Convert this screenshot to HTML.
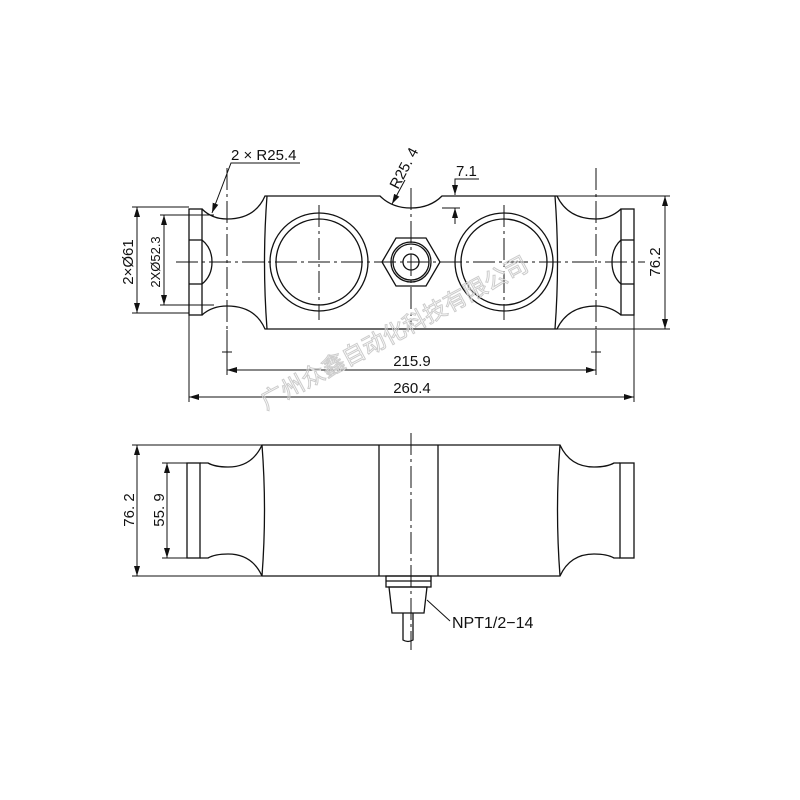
<!DOCTYPE html>
<html><head><meta charset="utf-8"><style>
html,body{margin:0;padding:0;background:#fff;}
svg{display:block;}
text{font-family:"Liberation Sans","Noto Sans CJK SC",sans-serif;fill:#111;}
</style></head><body>
<svg width="800" height="800" viewBox="0 0 800 800" xmlns="http://www.w3.org/2000/svg">
<defs>
<marker id="a" viewBox="0 0 10 6" refX="10" refY="3" markerWidth="10" markerHeight="6" orient="auto-start-reverse" markerUnits="userSpaceOnUse"><path d="M0,0 L10,3 L0,6 z" fill="#111"/></marker>
</defs>
<g fill="none" stroke="#111" stroke-width="1.3">
<path d="M202,209 Q212,219 227,219 Q255,219 265,196 L380,196 Q392,208 411,208 Q430,208 442,196 L557,196 Q568,219 596,219 Q610,219 621,209"/>
<path d="M202,315 Q212,306 227,306 Q255,306 265,329 L557,329 Q568,306 596,306 Q610,306 621,315"/>
<path d="M267,196 Q262,262 267,329"/>
<path d="M555,196 Q560,262 555,329"/>
<rect x="189" y="209" width="13" height="106"/>
<line x1="189" y1="240" x2="202" y2="240"/><line x1="189" y1="284" x2="202" y2="284"/>
<path d="M202,240 Q212,248 212,262 Q212,276 202,284"/>
<rect x="621" y="209" width="13" height="106"/>
<line x1="621" y1="240" x2="634" y2="240"/><line x1="621" y1="284" x2="634" y2="284"/>
<path d="M621,240 Q612,248 612,262 Q612,276 621,284"/>
<circle cx="319" cy="262" r="49"/><circle cx="319" cy="262" r="43"/>
<circle cx="504" cy="262" r="49"/><circle cx="504" cy="262" r="43"/>
<polygon points="382,262 396,238 426,238 440,262 426,286 396,286"/>
<circle cx="411" cy="262" r="20"/><circle cx="411" cy="262" r="18"/><circle cx="411" cy="262" r="8"/>
</g>
<g fill="none" stroke="#111" stroke-width="1" stroke-dasharray="22,4,3,4">
<line x1="176" y1="262" x2="645" y2="262"/>
<line x1="227" y1="168" x2="227" y2="330"/>
<line x1="596" y1="168" x2="596" y2="330"/>
<line x1="319" y1="205" x2="319" y2="320"/>
<line x1="504" y1="205" x2="504" y2="320"/>
<line x1="411" y1="188" x2="411" y2="325"/>
<line x1="411" y1="433" x2="411" y2="650"/>
</g>
<g fill="none" stroke="#111" stroke-width="1">
<line x1="227" y1="330" x2="227" y2="375"/><line x1="596" y1="330" x2="596" y2="375"/>
<line x1="222" y1="352" x2="232" y2="352"/><line x1="591" y1="352" x2="601" y2="352"/>
<line x1="227" y1="370" x2="596" y2="370" marker-start="url(#a)" marker-end="url(#a)"/>
<line x1="189" y1="315" x2="189" y2="402"/><line x1="634" y1="315" x2="634" y2="402"/>
<line x1="189" y1="397" x2="634" y2="397" marker-start="url(#a)" marker-end="url(#a)"/>
<line x1="557" y1="196" x2="670" y2="196"/><line x1="557" y1="329" x2="670" y2="329"/>
<line x1="665" y1="196" x2="665" y2="329" marker-start="url(#a)" marker-end="url(#a)"/>
<line x1="132" y1="207" x2="189" y2="207"/><line x1="132" y1="313" x2="189" y2="313"/>
<line x1="137" y1="207" x2="137" y2="313" marker-start="url(#a)" marker-end="url(#a)"/>
<line x1="160" y1="215" x2="214" y2="215"/><line x1="160" y1="305" x2="214" y2="305"/>
<line x1="164" y1="215" x2="164" y2="305" marker-start="url(#a)" marker-end="url(#a)"/>
<polyline points="300,163 231,163 212,213" marker-end="url(#a)"/>
<line x1="405" y1="180" x2="392" y2="204" marker-end="url(#a)"/>
<polyline points="479,179 455,179 455,195" marker-end="url(#a)"/>
<line x1="455" y1="224" x2="455" y2="208" marker-end="url(#a)"/>
<line x1="442" y1="208" x2="460" y2="208"/>
</g>
<g font-size="15">
<text x="231" y="160">2 × R25.4</text>
<text x="412" y="366" text-anchor="middle">215.9</text>
<text x="412" y="393" text-anchor="middle">260.4</text>
<text x="456" y="176">7.1</text>
<text transform="translate(398,190) rotate(-62)">R25. 4</text>
<text transform="translate(660,262) rotate(-90)" text-anchor="middle">76.2</text>
<text transform="translate(133,262) rotate(-90)" text-anchor="middle">2×Ø61</text>
<text transform="translate(160,262) rotate(-90)" text-anchor="middle" font-size="13">2XØ52.3</text>
</g>
<g fill="none" stroke="#111" stroke-width="1.3">
<path d="M200,463 L208,463 Q215,467 228,467 Q252,467 262,445 L560,445 Q570,467 594,467 Q607,467 614,463 L620,463"/>
<path d="M200,558 L208,558 Q215,554 228,554 Q252,554 262,576 L560,576 Q570,554 594,554 Q607,554 614,558 L620,558"/>
<path d="M262,445 Q267,510 262,576"/><path d="M560,445 Q555,510 560,576"/>
<rect x="187" y="463" width="13" height="95"/>
<rect x="620" y="463" width="14" height="95"/>
<line x1="379" y1="445" x2="379" y2="576"/><line x1="438" y1="445" x2="438" y2="576"/>
<rect x="386" y="576" width="45" height="11"/><line x1="386" y1="581" x2="431" y2="581"/>
<polygon points="389,587 427,587 424,613 392,613"/>
<path d="M403,613 L403,640 Q408,643 413,640 L413,613"/>
</g>
<g fill="none" stroke="#111" stroke-width="1">
<line x1="132" y1="445" x2="262" y2="445"/><line x1="132" y1="576" x2="262" y2="576"/>
<line x1="137" y1="445" x2="137" y2="576" marker-start="url(#a)" marker-end="url(#a)"/>
<line x1="162" y1="463" x2="187" y2="463"/><line x1="162" y1="558" x2="187" y2="558"/>
<line x1="167" y1="463" x2="167" y2="558" marker-start="url(#a)" marker-end="url(#a)"/>
<line x1="427" y1="600" x2="450" y2="621"/>
</g>
<g font-size="15">
<text transform="translate(134,510) rotate(-90)" text-anchor="middle">76. 2</text>
<text transform="translate(164,510) rotate(-90)" text-anchor="middle">55. 9</text>
<text x="452" y="628" font-size="16">NPT1/2−14</text>
</g>
<text transform="translate(266,410) rotate(-28)" font-size="23" style="fill:none;stroke:#ccc;stroke-width:1">广州众鑫自动化科技有限公司</text>
</svg>
</body></html>
